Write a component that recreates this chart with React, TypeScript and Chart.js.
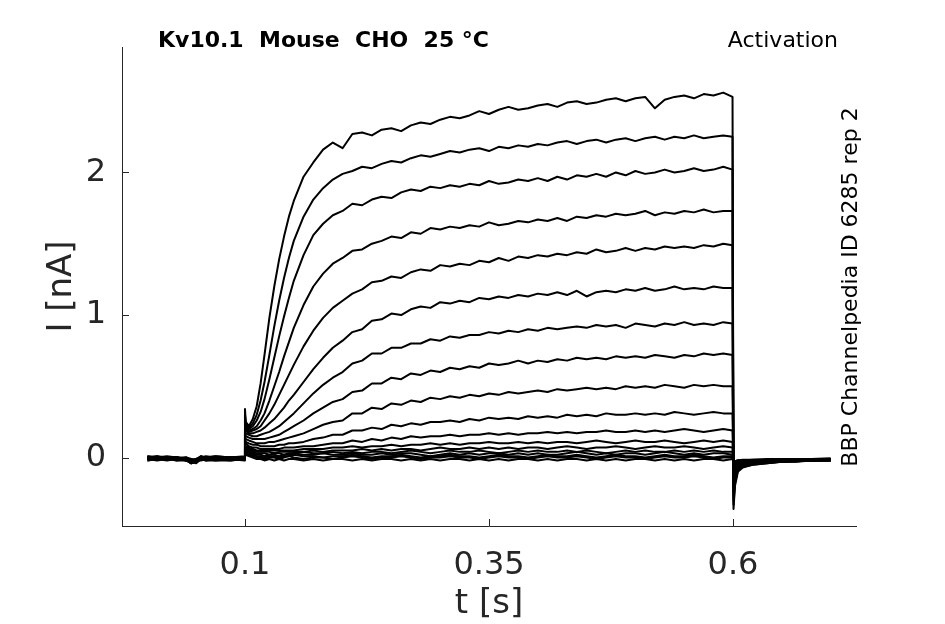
import { useEffect, useRef } from 'react'
import { Chart, registerables } from 'chart.js'

Chart.register(...registerables)

// sample times [s], shared by every sweep
const TIME_S = [
  0, 0.01, 0.02, 0.03, 0.04, 0.045, 0.05, 0.055, 0.06, 0.07, 0.085, 0.0995,
  0.1, 0.1008, 0.104,
  0.108, 0.112, 0.116, 0.12, 0.125, 0.13, 0.135, 0.14, 0.145, 0.15, 0.16, 0.17, 0.18, 0.19,
  0.2, 0.21, 0.22, 0.23, 0.24, 0.25, 0.26, 0.27, 0.28, 0.29,
  0.3, 0.31, 0.32, 0.33, 0.34, 0.35, 0.36, 0.37, 0.38, 0.39,
  0.4, 0.41, 0.42, 0.43, 0.44, 0.45, 0.46, 0.47, 0.48, 0.49,
  0.5, 0.51, 0.52, 0.53, 0.54, 0.55, 0.56, 0.57, 0.58, 0.59,
  0.5995,
  0.6005, 0.602, 0.605, 0.61, 0.62, 0.635, 0.65, 0.665, 0.68, 0.7,
]

// current sweeps [nA], largest step first
const TRACE_01 = [
  0.00, -0.01, 0.00, -0.01, -0.01, -0.03, -0.02, 0.01, -0.01, 0.00, -0.01, 0.00,
  0.34, 0.25, 0.22,
  0.27, 0.36, 0.52, 0.72, 0.98, 1.20, 1.39, 1.55, 1.69, 1.80, 1.97, 2.07, 2.16, 2.21,
  2.17, 2.27, 2.28, 2.26, 2.30, 2.31, 2.29, 2.33, 2.35, 2.34,
  2.37, 2.39, 2.38, 2.40, 2.43, 2.41, 2.44, 2.46, 2.44, 2.45,
  2.47, 2.48, 2.46, 2.49, 2.50, 2.48, 2.49, 2.51, 2.52, 2.50,
  2.52, 2.53, 2.45, 2.51, 2.53, 2.54, 2.52, 2.55, 2.54, 2.56,
  2.53,
  -0.36, -0.20, -0.10, -0.07, -0.05, -0.04, -0.03, -0.03, -0.02, -0.02,
]
const TRACE_02 = [
  -0.01, 0.00, -0.01, 0.00, -0.02, -0.04, -0.03, 0.00, -0.01, -0.01, 0.00, -0.01,
  0.30, 0.24, 0.21,
  0.24, 0.30, 0.40, 0.53, 0.72, 0.92, 1.10, 1.26, 1.40, 1.52, 1.69, 1.81, 1.89, 1.95,
  1.99, 2.01, 2.04, 2.03, 2.06, 2.08, 2.07, 2.10, 2.12, 2.11,
  2.13, 2.15, 2.14, 2.16, 2.17, 2.15, 2.18, 2.17, 2.19, 2.18,
  2.20, 2.19, 2.21, 2.22, 2.20, 2.22, 2.23, 2.21, 2.23, 2.24,
  2.22, 2.24, 2.25, 2.23, 2.25, 2.24, 2.26, 2.24, 2.25, 2.26,
  2.25,
  -0.33, -0.18, -0.09, -0.065, -0.05, -0.04, -0.03, -0.025, -0.02, -0.02,
]
const TRACE_03 = [
  0.01, 0.00, 0.00, -0.01, 0.00, -0.01, -0.02, 0.00, 0.00, 0.01, 0.00, 0.00,
  0.28, 0.23, 0.20,
  0.22, 0.26, 0.32, 0.41, 0.55, 0.70, 0.85, 0.99, 1.12, 1.24, 1.42, 1.56, 1.64, 1.70,
  1.73, 1.78, 1.77, 1.81, 1.83, 1.82, 1.86, 1.88, 1.87, 1.90,
  1.89, 1.91, 1.90, 1.92, 1.91, 1.94, 1.92, 1.93, 1.95, 1.94,
  1.96, 1.94, 1.97, 1.95, 1.98, 1.97, 1.99, 1.97, 2.00, 1.98,
  2.01, 1.99, 2.00, 2.02, 2.00, 2.01, 2.03, 2.01, 2.02, 2.04,
  2.02,
  -0.30, -0.16, -0.08, -0.06, -0.045, -0.035, -0.03, -0.025, -0.02, -0.02,
]
const TRACE_04 = [
  0.00, 0.01, -0.01, 0.00, -0.01, -0.02, -0.01, 0.00, 0.00, -0.01, 0.00, 0.01,
  0.26, 0.21, 0.19,
  0.20, 0.22, 0.26, 0.31, 0.40, 0.50, 0.60, 0.71, 0.81, 0.91, 1.07, 1.20, 1.29, 1.36,
  1.40, 1.45, 1.46, 1.50, 1.52, 1.55, 1.54, 1.58, 1.57, 1.61,
  1.60, 1.62, 1.61, 1.63, 1.62, 1.65, 1.63, 1.64, 1.66, 1.65,
  1.67, 1.66, 1.68, 1.66, 1.69, 1.68, 1.70, 1.69, 1.71, 1.70,
  1.71, 1.73, 1.70, 1.72, 1.71, 1.73, 1.72, 1.74, 1.72, 1.73,
  1.73,
  -0.27, -0.14, -0.075, -0.055, -0.045, -0.035, -0.03, -0.025, -0.02, -0.02,
]
const TRACE_05 = [
  -0.02, -0.01, -0.02, -0.01, -0.02, -0.03, -0.04, -0.01, -0.02, -0.01, -0.02, -0.01,
  0.24, 0.20, 0.18,
  0.19, 0.20, 0.22, 0.26, 0.31, 0.37, 0.44, 0.51, 0.58, 0.65, 0.78, 0.89, 0.98, 1.05,
  1.10, 1.15, 1.18, 1.23, 1.24, 1.27, 1.26, 1.30, 1.32, 1.31,
  1.35, 1.34, 1.36, 1.35, 1.38, 1.37, 1.40, 1.38, 1.41, 1.40,
  1.42, 1.41, 1.43, 1.42, 1.44, 1.43, 1.46, 1.44, 1.45, 1.47,
  1.45, 1.47, 1.46, 1.48, 1.47, 1.48, 1.47, 1.49, 1.48, 1.50,
  1.49,
  -0.24, -0.12, -0.07, -0.05, -0.04, -0.03, -0.025, -0.02, -0.02, -0.02,
]
const TRACE_06 = [
  0.00, -0.01, 0.00, 0.00, -0.02, -0.04, -0.02, 0.00, -0.01, 0.00, 0.00, -0.01,
  0.22, 0.19, 0.17,
  0.17, 0.18, 0.19, 0.21, 0.24, 0.27, 0.31, 0.35, 0.40, 0.44, 0.53, 0.62, 0.70, 0.77,
  0.82, 0.88, 0.90, 0.96, 0.97, 1.01, 1.00, 1.04, 1.06, 1.05,
  1.09, 1.08, 1.10, 1.09, 1.12, 1.11, 1.13, 1.12, 1.14, 1.13,
  1.15, 1.14, 1.16, 1.14, 1.17, 1.13, 1.16, 1.17, 1.16, 1.18,
  1.17, 1.19, 1.17, 1.18, 1.20, 1.18, 1.19, 1.18, 1.20, 1.19,
  1.19,
  -0.21, -0.11, -0.065, -0.05, -0.04, -0.03, -0.025, -0.02, -0.02, -0.015,
]
const TRACE_07 = [
  0.01, 0.00, -0.01, 0.00, 0.00, -0.02, -0.03, -0.01, 0.00, 0.00, -0.01, 0.00,
  0.20, 0.17, 0.16,
  0.15, 0.15, 0.16, 0.17, 0.18, 0.20, 0.22, 0.25, 0.28, 0.31, 0.38, 0.45, 0.51, 0.56,
  0.60, 0.66, 0.68, 0.73, 0.73, 0.77, 0.77, 0.80, 0.80, 0.83,
  0.82, 0.85, 0.84, 0.86, 0.86, 0.88, 0.87, 0.89, 0.88, 0.90,
  0.89, 0.91, 0.90, 0.91, 0.92, 0.91, 0.93, 0.92, 0.93, 0.91,
  0.94, 0.93, 0.92, 0.94, 0.93, 0.95, 0.93, 0.94, 0.93, 0.95,
  0.94,
  -0.18, -0.09, -0.06, -0.045, -0.035, -0.03, -0.025, -0.02, -0.02, -0.015,
]
const TRACE_08 = [
  -0.01, -0.01, 0.00, -0.01, -0.01, -0.03, -0.03, 0.00, -0.01, -0.01, -0.01, 0.00,
  0.18, 0.15, 0.14,
  0.13, 0.13, 0.13, 0.13, 0.14, 0.15, 0.16, 0.18, 0.20, 0.22, 0.26, 0.31, 0.35, 0.39,
  0.41, 0.46, 0.47, 0.52, 0.52, 0.56, 0.55, 0.59, 0.58, 0.61,
  0.60, 0.63, 0.62, 0.64, 0.63, 0.66, 0.65, 0.66, 0.68, 0.66,
  0.68, 0.67, 0.69, 0.68, 0.70, 0.69, 0.70, 0.69, 0.71, 0.70,
  0.71, 0.70, 0.72, 0.71, 0.70, 0.72, 0.71, 0.73, 0.72, 0.73,
  0.72,
  -0.15, -0.08, -0.055, -0.04, -0.035, -0.03, -0.025, -0.02, -0.02, -0.015,
]
const TRACE_09 = [
  0.00, 0.00, -0.01, -0.01, 0.00, -0.02, -0.01, 0.01, 0.00, -0.01, 0.00, 0.00,
  0.16, 0.13, 0.12,
  0.11, 0.10, 0.10, 0.10, 0.11, 0.11, 0.12, 0.13, 0.14, 0.15, 0.17, 0.20, 0.23, 0.25,
  0.26, 0.31, 0.31, 0.35, 0.34, 0.38, 0.37, 0.40, 0.39, 0.42,
  0.41, 0.43, 0.42, 0.44, 0.43, 0.45, 0.44, 0.46, 0.45, 0.46,
  0.47, 0.46, 0.48, 0.47, 0.48, 0.49, 0.48, 0.49, 0.48, 0.50,
  0.49, 0.50, 0.49, 0.51, 0.50, 0.49, 0.51, 0.50, 0.51, 0.50,
  0.50,
  -0.12, -0.07, -0.05, -0.04, -0.03, -0.025, -0.02, -0.02, -0.02, -0.015,
]
const TRACE_10 = [
  -0.01, 0.00, 0.00, -0.02, -0.01, -0.03, -0.02, -0.01, 0.00, -0.01, -0.01, -0.01,
  0.14, 0.11, 0.10,
  0.09, 0.09, 0.08, 0.08, 0.08, 0.08, 0.09, 0.09, 0.10, 0.10, 0.11, 0.13, 0.14, 0.16,
  0.16, 0.19, 0.19, 0.21, 0.20, 0.23, 0.22, 0.24, 0.23, 0.25,
  0.25, 0.26, 0.25, 0.27, 0.26, 0.28, 0.27, 0.28, 0.27, 0.29,
  0.28, 0.29, 0.28, 0.30, 0.29, 0.30, 0.29, 0.31, 0.30, 0.30,
  0.31, 0.30, 0.31, 0.30, 0.32, 0.31, 0.30, 0.31, 0.32, 0.31,
  0.31,
  -0.10, -0.06, -0.045, -0.035, -0.03, -0.025, -0.02, -0.02, -0.015, -0.015,
]
const TRACE_11 = [
  0.00, -0.01, 0.00, 0.00, -0.01, -0.02, -0.02, 0.00, 0.00, 0.00, -0.01, 0.00,
  0.12, 0.10, 0.08,
  0.07, 0.07, 0.06, 0.06, 0.06, 0.06, 0.06, 0.07, 0.07, 0.07, 0.08, 0.08, 0.09, 0.10,
  0.10, 0.12, 0.11, 0.13, 0.12, 0.14, 0.13, 0.15, 0.14, 0.15,
  0.15, 0.16, 0.15, 0.16, 0.16, 0.17, 0.16, 0.17, 0.16, 0.17,
  0.17, 0.18, 0.17, 0.18, 0.17, 0.18, 0.18, 0.19, 0.18, 0.18,
  0.19, 0.18, 0.19, 0.18, 0.19, 0.20, 0.19, 0.18, 0.19, 0.20,
  0.19,
  -0.08, -0.05, -0.04, -0.03, -0.025, -0.02, -0.02, -0.015, -0.015, -0.015,
]
const TRACE_12 = [
  -0.01, -0.01, -0.01, 0.00, -0.02, -0.03, -0.02, -0.01, -0.01, 0.00, -0.01, -0.01,
  0.10, 0.08, 0.07,
  0.06, 0.05, 0.05, 0.05, 0.05, 0.05, 0.05, 0.05, 0.05, 0.05, 0.06, 0.06, 0.06, 0.07,
  0.07, 0.08, 0.07, 0.08, 0.08, 0.09, 0.08, 0.09, 0.09, 0.10,
  0.09, 0.10, 0.09, 0.10, 0.10, 0.11, 0.10, 0.10, 0.11, 0.10,
  0.11, 0.10, 0.11, 0.11, 0.10, 0.11, 0.12, 0.11, 0.10, 0.11,
  0.12, 0.11, 0.11, 0.12, 0.11, 0.10, 0.11, 0.12, 0.11, 0.12,
  0.11,
  -0.07, -0.045, -0.035, -0.03, -0.025, -0.02, -0.02, -0.015, -0.015, -0.01,
]
const TRACE_13 = [
  0.00, 0.00, 0.01, 0.00, -0.01, -0.02, -0.01, 0.00, 0.01, 0.00, 0.00, 0.00,
  0.09, 0.07, 0.06,
  0.05, 0.04, 0.04, 0.04, 0.04, 0.03, 0.04, 0.04, 0.04, 0.04, 0.04, 0.05, 0.04, 0.05,
  0.05, 0.05, 0.06, 0.05, 0.06, 0.05, 0.06, 0.06, 0.05, 0.06,
  0.07, 0.06, 0.06, 0.07, 0.06, 0.07, 0.06, 0.07, 0.06, 0.07,
  0.07, 0.06, 0.07, 0.08, 0.07, 0.06, 0.07, 0.07, 0.08, 0.07,
  0.06, 0.07, 0.08, 0.07, 0.07, 0.08, 0.07, 0.06, 0.07, 0.08,
  0.07,
  -0.06, -0.04, -0.03, -0.025, -0.02, -0.02, -0.015, -0.015, -0.01, -0.01,
]
const TRACE_14 = [
  -0.02, -0.01, -0.01, -0.02, -0.02, -0.04, -0.03, -0.01, -0.02, -0.02, -0.01, -0.02,
  0.08, 0.06, 0.05,
  0.04, 0.03, 0.03, 0.03, 0.02, 0.03, 0.03, 0.02, 0.03, 0.03, 0.04, 0.03, 0.03, 0.04,
  0.03, 0.04, 0.03, 0.04, 0.04, 0.03, 0.04, 0.05, 0.04, 0.03,
  0.04, 0.05, 0.04, 0.04, 0.05, 0.04, 0.03, 0.04, 0.05, 0.04,
  0.05, 0.04, 0.04, 0.05, 0.04, 0.05, 0.04, 0.03, 0.04, 0.05,
  0.04, 0.05, 0.04, 0.04, 0.05, 0.04, 0.05, 0.04, 0.05, 0.04,
  0.04,
  -0.05, -0.035, -0.03, -0.025, -0.02, -0.02, -0.015, -0.015, -0.01, -0.01,
]
const TRACE_15 = [
  0.00, 0.01, 0.00, 0.00, -0.01, -0.01, -0.02, 0.00, 0.00, 0.01, 0.00, 0.00,
  0.07, 0.05, 0.04,
  0.03, 0.02, 0.02, 0.01, 0.02, 0.02, 0.01, 0.02, 0.02, 0.03, 0.02, 0.02, 0.03, 0.02,
  0.02, 0.03, 0.02, 0.02, 0.03, 0.02, 0.03, 0.03, 0.02, 0.01,
  0.02, 0.03, 0.02, 0.03, 0.02, 0.03, 0.03, 0.02, 0.03, 0.02,
  0.03, 0.02, 0.02, 0.03, 0.04, 0.03, 0.02, 0.03, 0.02, 0.03,
  0.03, 0.02, 0.03, 0.04, 0.03, 0.02, 0.03, 0.02, 0.03, 0.03,
  0.02,
  -0.04, -0.03, -0.025, -0.02, -0.02, -0.015, -0.015, -0.01, -0.01, -0.01,
]
const TRACE_16 = [
  -0.01, 0.00, -0.01, -0.01, -0.01, -0.03, -0.02, 0.00, -0.01, 0.00, -0.01, -0.01,
  0.06, 0.04, 0.03,
  0.02, 0.01, 0.01, 0.00, 0.01, 0.01, 0.00, 0.01, 0.01, 0.02, 0.01, 0.01, 0.00, 0.01,
  0.01, 0.02, 0.01, 0.00, 0.01, 0.01, 0.02, 0.01, 0.00, 0.01,
  0.01, 0.02, 0.01, 0.01, 0.00, 0.01, 0.02, 0.01, 0.01, 0.00,
  0.01, 0.02, 0.01, 0.01, 0.02, 0.01, 0.00, 0.01, 0.02, 0.01,
  0.01, 0.00, 0.01, 0.02, 0.01, 0.01, 0.02, 0.01, 0.00, 0.01,
  0.01,
  -0.035, -0.025, -0.02, -0.02, -0.015, -0.015, -0.01, -0.01, -0.01, -0.01,
]
const TRACE_17 = [
  0.00, -0.01, -0.01, 0.00, -0.01, -0.02, -0.03, -0.01, 0.00, -0.01, 0.00, 0.00,
  0.05, 0.03, 0.02,
  0.01, 0.00, 0.00, -0.01, 0.00, 0.00, -0.01, 0.00, 0.01, 0.00, -0.01, 0.00, 0.00, -0.01,
  0.00, 0.01, 0.00, -0.01, 0.00, 0.00, 0.01, 0.00, -0.01, 0.00,
  0.00, 0.01, 0.00, 0.00, -0.01, 0.00, 0.01, 0.00, 0.00, -0.01,
  0.00, 0.01, 0.00, 0.00, 0.01, 0.00, -0.01, 0.00, 0.01, 0.00,
  0.00, -0.01, 0.00, 0.01, 0.00, 0.00, 0.01, 0.00, -0.01, 0.00,
  0.00,
  -0.03, -0.025, -0.02, -0.015, -0.015, -0.01, -0.01, -0.01, -0.01, -0.005,
]
const TRACE_18 = [
  -0.01, -0.02, -0.01, -0.01, -0.02, -0.03, -0.02, -0.02, -0.01, -0.02, -0.02, -0.01,
  0.04, 0.02, 0.01,
  0.00, -0.01, -0.01, -0.02, -0.01, -0.02, -0.01, -0.02, -0.01, -0.01, -0.02, -0.01, -0.02, -0.01,
  -0.01, -0.02, -0.01, -0.02, -0.01, -0.01, -0.02, -0.01, -0.02, -0.01,
  -0.02, -0.01, -0.01, -0.02, -0.01, -0.02, -0.01, -0.02, -0.01, -0.01,
  -0.02, -0.01, -0.02, -0.01, -0.01, -0.02, -0.01, -0.02, -0.01, -0.02,
  -0.01, -0.01, -0.02, -0.01, -0.02, -0.01, -0.02, -0.01, -0.01, -0.02,
  -0.01,
  -0.03, -0.025, -0.02, -0.02, -0.02, -0.02, -0.015, -0.015, -0.015, -0.015,
]

const TRACES = [
  TRACE_01, TRACE_02, TRACE_03, TRACE_04, TRACE_05, TRACE_06,
  TRACE_07, TRACE_08, TRACE_09, TRACE_10, TRACE_11, TRACE_12,
  TRACE_13, TRACE_14, TRACE_15, TRACE_16, TRACE_17, TRACE_18,
]

const X_TICKS = [0.1, 0.35, 0.6]
const Y_TICKS = [0, 1, 2]

const TITLE_LEFT = 'Kv10.1  Mouse  CHO  25 °C'
const TITLE_RIGHT = 'Activation'
const SIDE_NOTE = 'BBP Channelpedia ID 6285 rep 2'

const FONT = '"DejaVu Sans", sans-serif'
const AXIS_COLOR = '#262626'

// inward ticks + header texts, matlab style
const decorPlugin = {
  id: 'decor',
  afterDraw(chart: any) {
    const { ctx, chartArea, scales } = chart
    ctx.save()
    ctx.strokeStyle = AXIS_COLOR
    ctx.lineWidth = 1
    X_TICKS.forEach((v) => {
      const x = Math.round(scales.x.getPixelForValue(v)) + 0.5
      ctx.beginPath()
      ctx.moveTo(x, chartArea.bottom)
      ctx.lineTo(x, chartArea.bottom - 7)
      ctx.stroke()
    })
    Y_TICKS.forEach((v) => {
      const y = Math.round(scales.y.getPixelForValue(v)) + 0.5
      ctx.beginPath()
      ctx.moveTo(chartArea.left, y)
      ctx.lineTo(chartArea.left + 7, y)
      ctx.stroke()
    })

    ctx.fillStyle = '#000'
    ctx.textBaseline = 'alphabetic'
    ctx.font = `bold 22px ${FONT}`
    ctx.textAlign = 'left'
    ctx.fillText(TITLE_LEFT, 158, 47)
    ctx.font = `22px ${FONT}`
    ctx.textAlign = 'right'
    ctx.fillText(TITLE_RIGHT, 838, 47)

    ctx.translate(857, 287)
    ctx.rotate(-Math.PI / 2)
    ctx.font = `22px ${FONT}`
    ctx.textAlign = 'center'
    ctx.fillText(SIDE_NOTE, 0, 0)
    ctx.restore()
  },
}

export default function App() {
  const canvasRef = useRef<HTMLCanvasElement>(null)
  const chartRef = useRef<Chart<'line'> | null>(null)

  useEffect(() => {
    if (!canvasRef.current) return
    if (chartRef.current) chartRef.current.destroy()

    const datasets = TRACES.map((trace, k) => ({
      label: `sweep ${k + 1}`,
      data: trace.map((v, i) => ({ x: TIME_S[i], y: v })),
      borderColor: '#000',
      borderWidth: 2,
      borderJoinStyle: 'round' as const,
      pointRadius: 0,
      tension: 0,
      fill: false,
    }))

    chartRef.current = new Chart(canvasRef.current, {
      type: 'line',
      data: { datasets },
      plugins: [decorPlugin],
      options: {
        animation: false,
        responsive: true,
        maintainAspectRatio: false,
        layout: { padding: { top: 47, right: 89, left: 0, bottom: 0 } },
        plugins: {
          legend: { display: false },
          tooltip: { enabled: false },
        },
        scales: {
          x: {
            type: 'linear',
            min: -0.026,
            max: 0.726,
            afterBuildTicks: (s: any) => {
              s.ticks = X_TICKS.map((v) => ({ value: v }))
            },
            afterFit: (s: any) => {
              s.height = 98
            },
            grid: { display: false, drawTicks: false },
            border: { display: true, color: AXIS_COLOR, width: 1 },
            ticks: {
              color: AXIS_COLOR,
              font: { family: FONT, size: 32 },
              padding: 20,
              maxRotation: 0,
              autoSkip: false,
              callback: (v: any) => String(v),
            },
            title: {
              display: true,
              text: 't [s]',
              color: AXIS_COLOR,
              font: { family: FONT, size: 34 },
              padding: { top: 0, bottom: -1 },
            },
          },
          y: {
            type: 'linear',
            min: -0.48,
            max: 2.88,
            afterBuildTicks: (s: any) => {
              s.ticks = Y_TICKS.map((v) => ({ value: v }))
            },
            afterFit: (s: any) => {
              s.width = 122
            },
            grid: { display: false, drawTicks: false },
            border: { display: true, color: AXIS_COLOR, width: 1 },
            ticks: {
              color: AXIS_COLOR,
              font: { family: FONT, size: 32 },
              padding: 16,
              autoSkip: false,
              callback: (v: any) => String(v),
            },
            title: {
              display: true,
              text: 'I [nA]',
              color: AXIS_COLOR,
              font: { family: FONT, size: 34 },
              padding: { top: 42, bottom: 0 },
            },
          },
        },
      },
    })

    return () => {
      if (chartRef.current) {
        chartRef.current.destroy()
        chartRef.current = null
      }
    }
  }, [])

  return (
    <div style={{ position: 'fixed', left: 0, top: 0, width: '945px', height: '624px', background: '#fff' }}>
      <canvas ref={canvasRef}></canvas>
    </div>
  )
}
